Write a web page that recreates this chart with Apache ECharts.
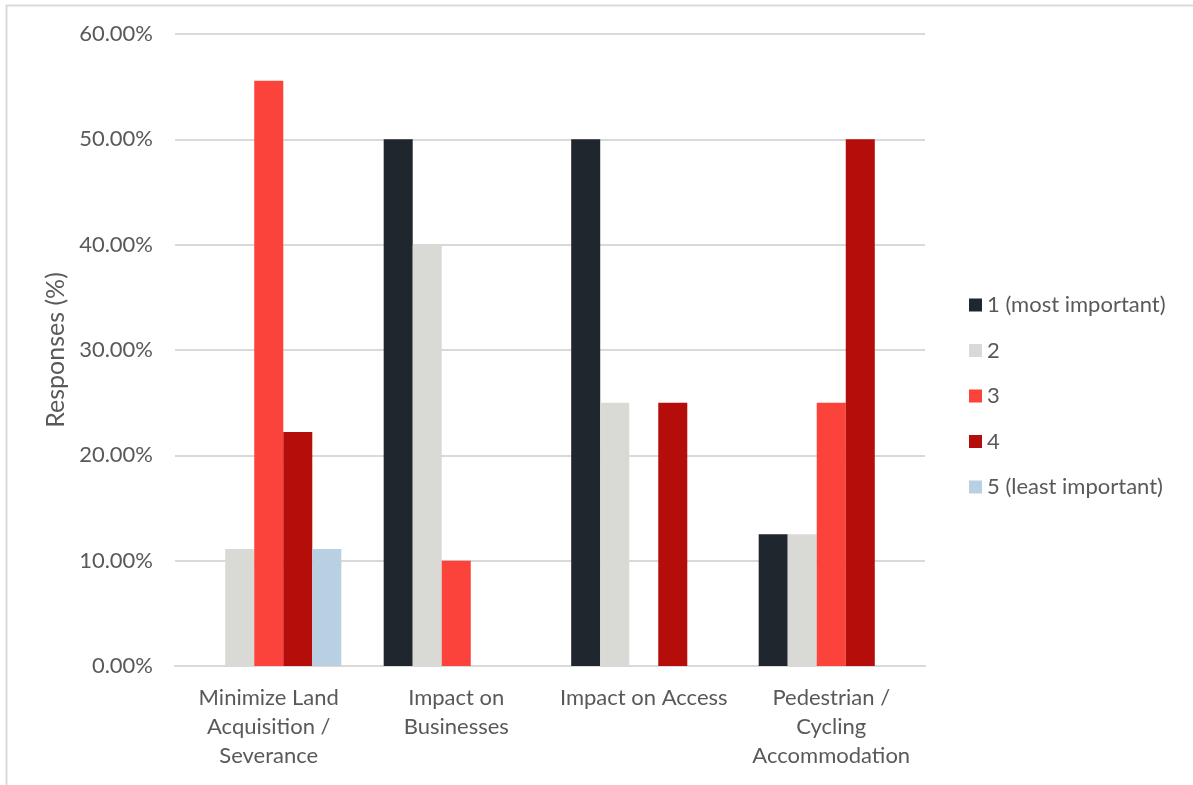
<!DOCTYPE html>
<html>
<head>
<meta charset="utf-8">
<script src="https://cdn.jsdelivr.net/npm/echarts@6/dist/echarts.min.js"></script>
<style>
  html, body { margin: 0; padding: 0; background: #ffffff; }
  #chart { width: 1193px; height: 785px; }
</style>
</head>
<body>
<div id="chart"></div>
<script>
// Survey categories and the share of responses for each importance rank
const categories = [
  'Minimize Land\nAcquisition /\nSeverance',
  'Impact on\nBusinesses',
  'Impact on Access',
  'Pedestrian /\nCycling\nAccommodation'
];
const seriesNames = ['1 (most important)', '2', '3', '4', '5 (least important)'];
const rank1 = [0, 50.0, 50.0, 12.5];
const rank2 = [11.11, 40.0, 25.0, 12.5];
const rank3 = [55.56, 10.0, 0, 25.0];
const rank4 = [22.22, 0, 25.0, 50.0];
const rank5 = [11.11, 0, 0, 0];
const seriesColors = ['#1f262d', '#d9d9d6', '#fc433b', '#b50e0a', '#b8d0e2'];
const yTicks = { min: 0, max: 60, interval: 10 };

const values = [rank1, rank2, rank3, rank4, rank5];
const font = 'Lato, "Open Sans", sans-serif';
const textColor = '#595959';

const chart = echarts.init(document.getElementById('chart'), null, { renderer: 'canvas' });

chart.setOption({
  backgroundColor: '#ffffff',
  animation: false,
  textStyle: { fontFamily: font },
  graphic: [{
    type: 'rect',
    shape: { x: 6.5, y: 5.5, width: 1200, height: 800 },
    style: { fill: 'none', stroke: '#d9d9d9', lineWidth: 2 },
    silent: true
  }],
  grid: { left: 175, right: 268, top: 34, bottom: 119, containLabel: false },
  legend: {
    orient: 'vertical',
    left: 964,
    top: 289,
    itemWidth: 13,
    itemHeight: 13,
    itemGap: 23.5,
    icon: 'rect',
    textStyle: { fontFamily: font, fontSize: 22, color: textColor, padding: [0, 0, 0, 0] },
    data: seriesNames
  },
  xAxis: {
    type: 'category',
    data: categories,
    axisLine: { lineStyle: { color: '#d9d9d9', width: 2 } },
    axisTick: { show: false },
    axisLabel: {
      fontFamily: font, fontSize: 22, color: textColor, lineHeight: 29,
      margin: 17, interval: 0, align: 'center'
    }
  },
  yAxis: {
    type: 'value',
    min: yTicks.min, max: yTicks.max, interval: yTicks.interval,
    name: 'Responses (%)',
    nameLocation: 'middle',
    nameGap: 105,
    nameRotate: 90,
    nameTextStyle: { fontFamily: font, fontSize: 25, color: textColor },
    axisLine: { show: false },
    axisTick: { show: false },
    splitLine: { lineStyle: { color: '#d9d9d9', width: 2 } },
    axisLabel: {
      fontFamily: font, fontSize: 22, color: textColor, margin: 22,
      formatter: v => v.toFixed(2) + '%'
    }
  },
  series: seriesNames.map((name, i) => ({
    name,
    type: 'bar',
    data: values[i],
    barGap: '0%',
    barCategoryGap: '22.6%',
    itemStyle: { color: seriesColors[i] }
  }))
});
</script>
</body>
</html>
